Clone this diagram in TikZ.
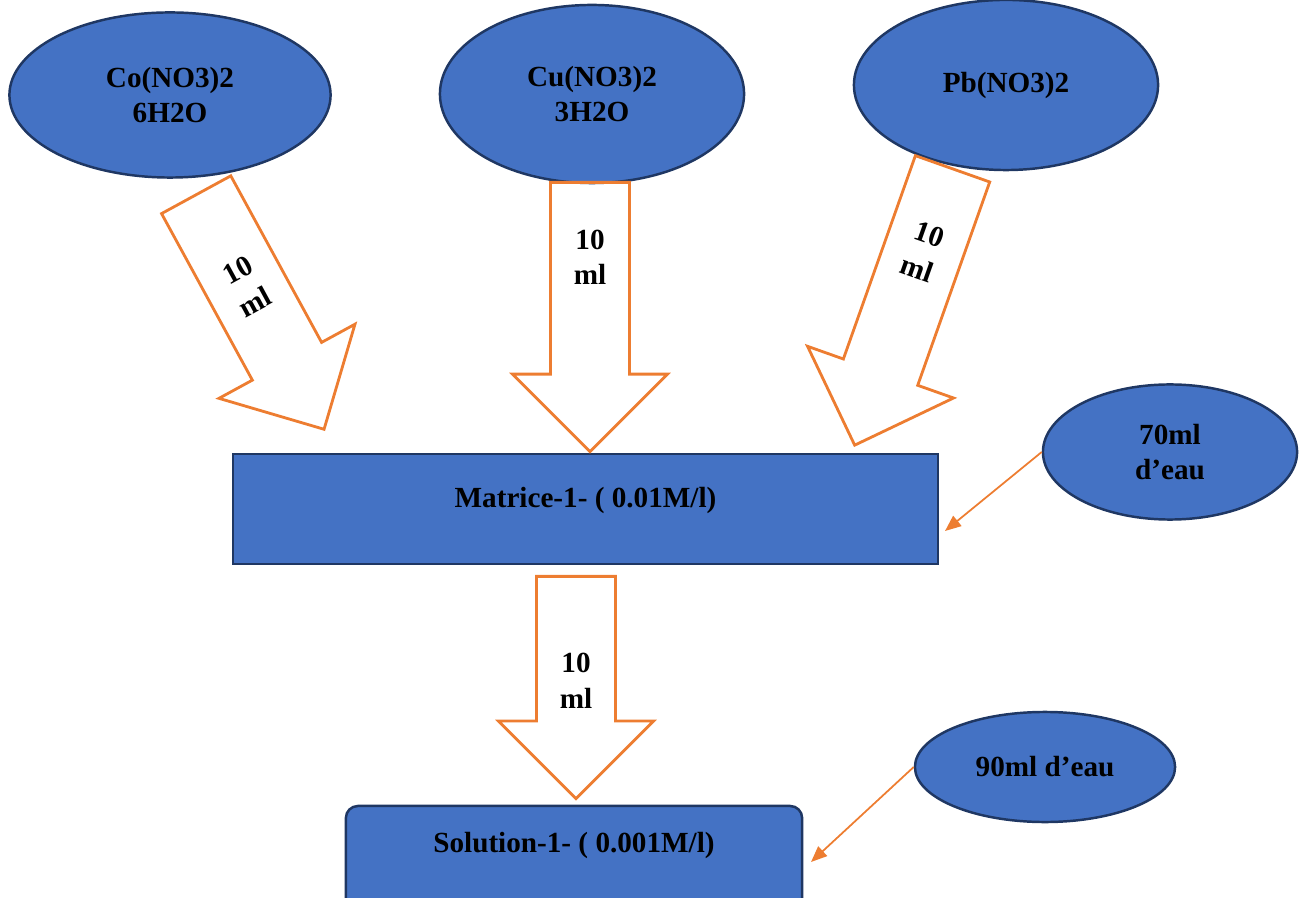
\documentclass[tikz,border=0pt]{standalone}
\usepackage{fontspec}
\setmainfont{Liberation Serif}
\usetikzlibrary{shapes.geometric,shapes.arrows,arrows.meta,calc}
\definecolor{blufill}{HTML}{4472C4}
\definecolor{bluline}{HTML}{1F3763}
\definecolor{orng}{HTML}{ED7D31}

\begin{document}
\begin{tikzpicture}[
  x=0.01cm, y=-0.01cm,
  font=\fontsize{8.3}{10.2}\selectfont\bfseries,
  salt/.style={draw=bluline, line width=0.7pt, fill=blufill, ellipse, align=center, inner sep=0pt},
  tank/.style={draw=bluline, line width=0.7pt, fill=blufill, rectangle, inner sep=0pt, text height=6.5pt},
  vol/.style={draw=orng, line width=0.8pt, single arrow, single arrow head extend=0.38cm, single arrow tip angle=90, inner xsep=0pt, inner ysep=0.38cm, text height=0pt, text depth=0pt, anchor=tail},
  lbl/.style={align=center, inner sep=0pt},
  feed/.style={-{Triangle[length=0.16cm,width=0.13cm]}, draw=orng, line width=0.5pt}
]
\useasboundingbox (0,0) rectangle (1307,898);

% sels de depart
\node[salt, minimum width=3.21cm, minimum height=1.65cm] (co) at (170,95) {Co(NO3)2\\6H2O};
\node[salt, minimum width=3.04cm, minimum height=1.78cm] (cu) at (592,94) {Cu(NO3)2\\3H2O};
\node[salt, minimum width=3.04cm, minimum height=1.70cm] (pb) at (1006,85) {Pb(NO3)2};

% matrice et solution
\node[tank, minimum width=7.05cm, minimum height=1.10cm, text depth=7.2pt] (mat) at (585.5,509) {Matrice-1- ( 0.01M/l)};
\node[tank, rounded corners=0.12cm, minimum width=4.56cm, minimum height=1.04cm, text depth=9.5pt] (sol) at (574,858) {Solution-1- ( 0.001M/l)};

% eau
\node[salt, minimum width=2.54cm, minimum height=1.35cm] (w70) at (1170,452) {70ml\\d’eau};
\node[salt, minimum width=2.60cm, minimum height=1.10cm] (w90) at (1045,767) {90ml d’eau};

% prelevements de 10 ml
\node[vol, rotate=-61.4, minimum height=2.67cm] (a1) at (195.5,193.5) {};
\node[vol, rotate=-90, minimum height=2.69cm] (a2) at (590,181) {};
\node[vol, rotate=-109.5, minimum height=2.93cm] (a3) at (953,167.5) {};
\node[vol, rotate=-90, minimum height=2.22cm] (a4) at (576,575) {};
\node[lbl, rotate=28.6] at ($(a1.tail)!0.39!(a1.tip)$) {10\\ml};
\node[lbl] at ($(a2.tail)!0.28!(a2.tip)$) {10\\ml};
\node[lbl, rotate=-19.5] at ($(a3.tail)!0.30!(a3.tip)$) {10\\ml};
\node[lbl] at ($(a4.tail)!0.47!(a4.tip)$) {10\\ml};

% ajout d'eau
\coordinate (m70) at (945,531);
\coordinate (s90) at (811,862);
\draw[feed] (w70.west) -- (m70);
\draw[feed] (w90.west) -- (s90);
\end{tikzpicture}
\end{document}
